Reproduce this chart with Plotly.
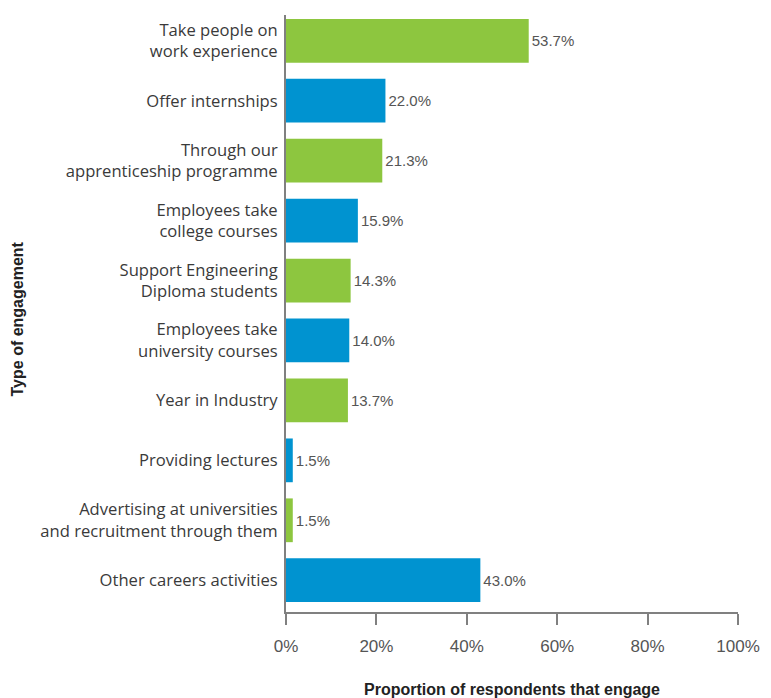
import plotly.graph_objects as go

categories = [
    "Take people on<br>work experience",
    "Offer internships",
    "Through our<br>apprenticeship programme",
    "Employees take<br>college courses",
    "Support Engineering<br>Diploma students",
    "Employees take<br>university courses",
    "Year in Industry",
    "Providing lectures",
    "Advertising at universities<br>and recruitment through them",
    "Other careers activities",
]
values = [53.7, 22.0, 21.3, 15.9, 14.3, 14.0, 13.7, 1.5, 1.5, 43.0]
GREEN = "#8DC63F"
BLUE = "#0093D0"
colors = [GREEN if i % 2 == 0 else BLUE for i in range(len(values))]
x_ticks = [0, 20, 40, 60, 80, 100]
x_tick_labels = ["0%", "20%", "40%", "60%", "80%", "100%"]

fig = go.Figure(go.Bar(
    y=categories, x=values, orientation="h",
    marker=dict(color=colors, line=dict(width=0)),
    width=0.73,
    text=[f"{v:.1f}%" for v in values],
    textposition="outside",
    textfont=dict(size=15, color="#555555", family="Liberation Sans, Arial"),
    cliponaxis=False,
))

fig.update_layout(
    width=771, height=698,
    margin=dict(l=286, r=33, t=15, b=86),
    plot_bgcolor="white", paper_bgcolor="white",
    showlegend=False,
    font=dict(family="Liberation Sans, Arial", color="#333333"),
    xaxis=dict(
        range=[0, 100], tickvals=x_ticks, ticktext=x_tick_labels,
        automargin=False,
        showgrid=False, zeroline=False,
        showline=True, linecolor="#808080", linewidth=2,
        ticks="outside", ticklen=11, tickwidth=2, tickcolor="#808080",
        tickfont=dict(size=17, color="#555555"),
        ticklabelstandoff=7,
        title=dict(text="<b>Proportion of respondents that engage</b>",
                   font=dict(size=16, color="#222222", family="Liberation Sans Narrow, Arial Narrow, Liberation Sans"),
                   standoff=28),
    ),
    yaxis=dict(
        categoryorder="array", categoryarray=categories,
        automargin=False,
        autorange=False, range=[9.53, -0.43],
        showgrid=False, zeroline=False,
        showline=True, linecolor="#808080", linewidth=2,
        ticks="", ticklabelstandoff=3,
        tickfont=dict(size=16.6, color="#3a3a3a", family="Open Sans, Liberation Sans"),
    ),
    annotations=[dict(
        text="<b>Type of engagement</b>", textangle=-90,
        xref="paper", yref="paper", x=(17 - 286) / 452, y=0.49,
        xanchor="center", yanchor="middle", showarrow=False,
        font=dict(size=16, color="#222222", family="Liberation Sans Narrow, Arial Narrow, Liberation Sans"),
    )],
)
fig.write_html("out.html")
